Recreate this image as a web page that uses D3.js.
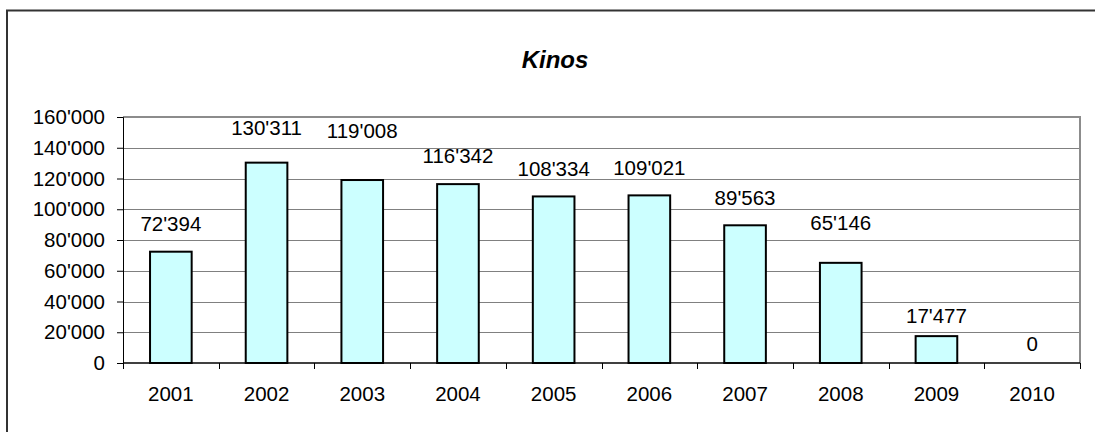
<!DOCTYPE html>
<html>
<head>
<meta charset="utf-8">
<script src="https://cdn.jsdelivr.net/npm/d3@7"></script>
<style>
  html, body { margin: 0; background: #fff; overflow: hidden; }
  svg { display: block; }
  text { font-family: "Liberation Sans", Arial, sans-serif; }
</style>
</head>
<body>
<svg width="1095" height="432"></svg>
<script>
// chart data
var years = ["2001","2002","2003","2004","2005","2006","2007","2008","2009","2010"];
var visitors = [72394, 130311, 119008, 116342, 108334, 109021, 89563, 65146, 17477, 0];
var yTicks = [0, 20000, 40000, 60000, 80000, 100000, 120000, 140000, 160000];
var title = "Kinos";

// labels were nudged by hand in the original, extra lift in px
var labelLift = [0, 7, 21, 0, 0, 0, 0, 12, -8, -9];

var svg = d3.select("svg");

var margins = { left: 123, right: 15, top: 117, bottom: 69 };
var width = 1095 - margins.left - margins.right;
var height = 432 - margins.top - margins.bottom;
var fontSize = "20.5px";

var fmt = function(v) {
  return d3.format(",")(v).replace(/,/g, "'");
};

// outer chart border (runs off the right and bottom edge)
svg.append("path")
   .attr("d", "M1100,10.5H7V440")
   .attr("fill", "none")
   .attr("stroke", "#333")
   .attr("stroke-width", 2);

svg.append("text")
   .attr("x", 555)
   .attr("y", 68)
   .attr("text-anchor", "middle")
   .style("font-size", "24px")
   .style("font-weight", "bold")
   .style("font-style", "italic")
   .text(title);

var xScale = d3.scaleBand()
               .domain(years)
               .range([0, width])
               .paddingInner(0.565)
               .paddingOuter(0.2825);

var yScale = d3.scaleLinear()
               .domain([0, 160000])
               .range([height, 0]);

var plot = svg.append("g")
              .attr("transform", "translate(" + margins.left + "," + margins.top + ")");

// gridlines
plot.selectAll("line.grid")
    .data(yTicks.slice(1))
    .enter()
    .append("line")
    .attr("class", "grid")
    .attr("x1", 0)
    .attr("x2", width)
    .attr("y1", function(d) { return Math.round(yScale(d)) + 0.5; })
    .attr("y2", function(d) { return Math.round(yScale(d)) + 0.5; })
    .attr("stroke", "#808080")
    .attr("stroke-width", 1);

// plot border top / right
plot.append("path")
    .attr("d", "M0," + yScale(160000) + "H" + width + "V" + height)
    .attr("fill", "none")
    .attr("stroke", "#8c8c8c")
    .attr("stroke-width", 2);

plot.selectAll("rect.bar")
    .data(visitors)
    .enter()
    .append("rect")
    .attr("class", "bar")
    .attr("x", function(d, i) { return xScale(years[i]); })
    .attr("y", function(d) { return yScale(d); })
    .attr("width", xScale.bandwidth())
    .attr("height", function(d) { return height - yScale(d); })
    .attr("fill", "#ccffff")
    .attr("stroke", "#000")
    .attr("stroke-width", 2)
    .style("display", function(d) { return d > 0 ? null : "none"; });

plot.selectAll("text.val")
    .data(visitors)
    .enter()
    .append("text")
    .attr("class", "val")
    .attr("x", function(d, i) { return xScale(years[i]) + xScale.bandwidth() / 2; })
    .attr("y", function(d, i) { return yScale(d) - 20.7 - labelLift[i]; })
    .attr("text-anchor", "middle")
    .style("font-size", fontSize)
    .text(function(d) { return fmt(d); });

// y axis
var yAxis = d3.axisLeft(yScale)
              .tickValues(yTicks)
              .tickSize(6)
              .tickPadding(12)
              .tickFormat(fmt);

plot.append("g")
    .call(yAxis)
    .call(function(g) {
      g.select(".domain").attr("stroke", "#000");
      g.selectAll(".tick line").attr("stroke", "#000");
      g.selectAll(".tick text")
       .attr("fill", "#000")
       .style("font-size", fontSize)
       .style("font-family", "'Liberation Sans', Arial, sans-serif");
    });

// x axis: ticks on category borders
var xBorders = d3.scaleLinear().domain([0, years.length]).range([0, width]);

plot.append("line")
    .attr("x1", 0)
    .attr("x2", width)
    .attr("y1", height)
    .attr("y2", height)
    .attr("stroke", "#000")
    .attr("stroke-width", 1.5);

plot.selectAll("line.xtick")
    .data(d3.range(years.length + 1))
    .enter()
    .append("line")
    .attr("class", "xtick")
    .attr("x1", function(d) { return Math.round(xBorders(d)) + 0.5; })
    .attr("x2", function(d) { return Math.round(xBorders(d)) + 0.5; })
    .attr("y1", height)
    .attr("y2", height + 6)
    .attr("stroke", "#000");

plot.selectAll("text.year")
    .data(years)
    .enter()
    .append("text")
    .attr("class", "year")
    .attr("x", function(d) { return xScale(d) + xScale.bandwidth() / 2; })
    .attr("y", height + 38)
    .attr("text-anchor", "middle")
    .style("font-size", fontSize)
    .text(function(d) { return d; });
</script>
</body>
</html>
